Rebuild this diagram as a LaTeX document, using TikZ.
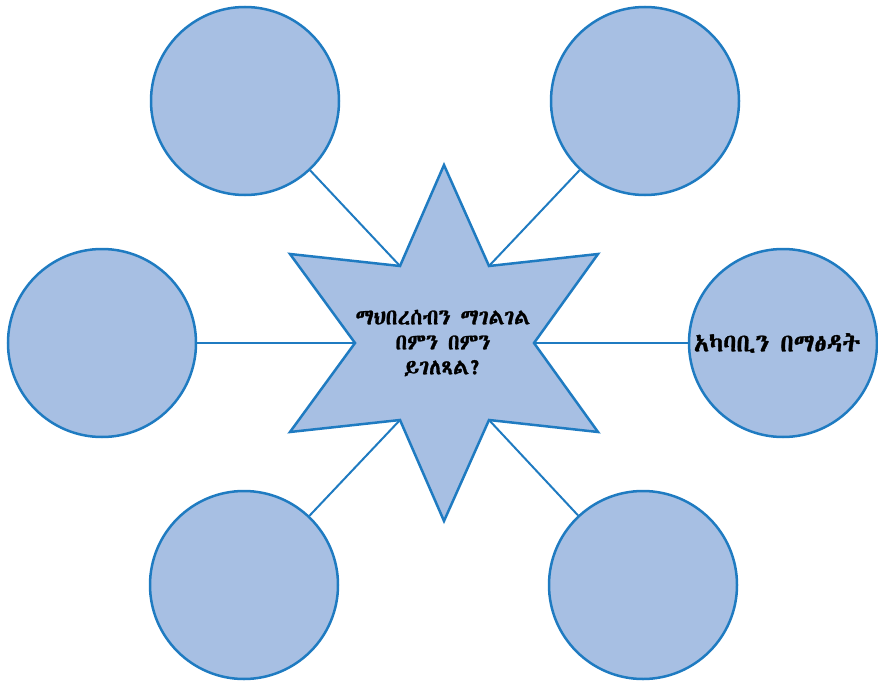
\documentclass[tikz,border=0pt]{standalone}
\usepackage{fontspec}
\IfFontExistsTF{Abyssinica SIL}{\newfontfamily\ethfont[FakeBold=1.2]{Abyssinica SIL}}{%
 \IfFontExistsTF{FreeSerif}{\newfontfamily\ethfont[FakeBold=1.2]{FreeSerif}}{%
  \IfFontExistsTF{Noto Serif Ethiopic}{\newfontfamily\ethfont{Noto Serif Ethiopic}}{%
   \newfontfamily\ethfont{DejaVu Sans}}}}
\definecolor{fillblue}{HTML}{A7BFE3}
\definecolor{lineblue}{HTML}{1F7BC1}
\begin{document}
\begin{tikzpicture}[x=1pt,y=-1pt,
  bubble/.style={circle,draw=lineblue,fill=fillblue,line width=2.5pt,minimum size=188pt,inner sep=0pt},
  link/.style={draw=lineblue,line width=2pt},
  lbl/.style={font=\ethfont\fontsize{22}{25}\selectfont,align=center,text=black}]
\useasboundingbox (0,0) rectangle (878,682);
% star inner vertices
\coordinate (i1) at (400,266);
\coordinate (i2) at (489,266);
\coordinate (i3) at (534,343);
\coordinate (i4) at (489,420);
\coordinate (i5) at (400,420);
\coordinate (i6) at (355,343);
% star outer points
\coordinate (o1) at (444,165);
\coordinate (o2) at (598,254);
\coordinate (o3) at (598,432);
\coordinate (o4) at (444,521);
\coordinate (o5) at (290,432);
\coordinate (o6) at (290,254);
\node[bubble] (tl) at (245,101) {};
\node[bubble] (tr) at (645,101) {};
\node[bubble] (l) at (102,343) {};
\node[bubble] (r) at (783,343) {};
\node[bubble] (bl) at (244,585) {};
\node[bubble] (br) at (643,585) {};
\draw[link] (tl) -- (i1);
\draw[link] (tr) -- (i2);
\draw[link] (r) -- (i3);
\draw[link] (br) -- (i4);
\draw[link] (bl) -- (i5);
\draw[link] (l) -- (i6);
\draw[draw=lineblue,fill=fillblue,line width=2.5pt,line join=miter]
  (o1) -- (i2) -- (o2) -- (i3) -- (o3) -- (i4) -- (o4) -- (i5) -- (o5) -- (i6) -- (o6) -- (i1) -- cycle;
\node[lbl] (q) at (443,343) {ማህበረሰብን ማገልገል\\በምን በምን\\ይገለጻል?};
\node[lbl,font=\ethfont\fontsize{25}{28}\selectfont] (a) at (777,343) {አካባቢን በማፅዳት};
\end{tikzpicture}
\end{document}
